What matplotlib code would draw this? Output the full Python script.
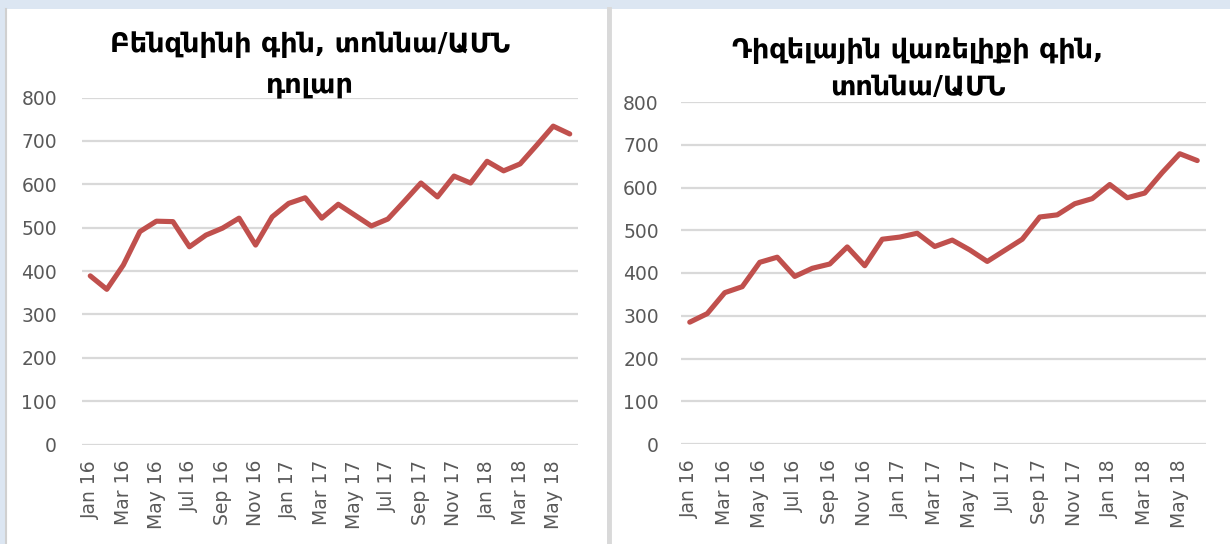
import matplotlib
matplotlib.use("Agg")
import matplotlib.pyplot as plt
from matplotlib.patches import Rectangle
from matplotlib.lines import Line2D

months = ["Jan 16", "Feb 16", "Mar 16", "Apr 16", "May 16", "Jun 16", "Jul 16", "Aug 16",
          "Sep 16", "Oct 16", "Nov 16", "Dec 16", "Jan 17", "Feb 17", "Mar 17", "Apr 17",
          "May 17", "Jun 17", "Jul 17", "Aug 17", "Sep 17", "Oct 17", "Nov 17", "Dec 17",
          "Jan 18", "Feb 18", "Mar 18", "Apr 18", "May 18", "Jun 18"]

gasoline = [389, 358, 414, 491, 515, 514, 456, 483, 499, 522, 460, 525,
            556, 569, 522, 554, 529, 504, 520, 561, 603, 571, 619, 603,
            653, 631, 647, 690, 734, 716]

diesel = [285, 305, 354, 368, 425, 437, 392, 411, 421, 461, 417, 479,
          484, 493, 462, 477, 454, 427, 453, 479, 531, 536, 562, 574,
          607, 576, 587, 635, 679, 663]

title_left = "Բենզնինի գին, տոննա/ԱՄՆ\nդոլար"
title_right = "Դիզելային վառելիքի գին,\nտոննա/ԱՄՆ"
yticks = [0, 100, 200, 300, 400, 500, 600, 700, 800]

W, H = 1230, 544
fig = plt.figure(figsize=(W / 100, H / 100), dpi=100)
fig.patch.set_facecolor("#dce6f2")

def fx(px):
    return px / W

def fy(py):
    return 1 - py / H

# panels
fig.patches.append(Rectangle((fx(6), 0), fx(601), fy(9), transform=fig.transFigure,
                             facecolor="white", edgecolor="none", zorder=-2))
fig.patches.append(Rectangle((fx(611), 0), fx(619), fy(9), transform=fig.transFigure,
                             facecolor="white", edgecolor="none", zorder=-2))
fig.lines.append(Line2D([fx(5.5), fx(5.5)], [0, fy(9)], transform=fig.transFigure,
                        color="#d0d0d0", lw=1.5, zorder=-1))
fig.lines.append(Line2D([fx(609), fx(609)], [0, fy(9)], transform=fig.transFigure,
                        color="#d9d9d9", lw=3.5, zorder=-1))

red = "#c0504d"
grid = "#d9d9d9"
tick_color = "#595959"

def make(ax, values, pad_y):
    x = list(range(len(values)))
    ax.set_facecolor("none")
    ax.plot(x, values, color=red, lw=3.7, solid_joinstyle="round", solid_capstyle="round",
            zorder=3)
    ax.set_xlim(-0.5, len(values) - 0.5)
    ax.set_ylim(0, 800)
    ax.set_yticks(yticks)
    ax.set_yticklabels([str(v) for v in yticks])
    ax.set_xticks(x[::2])
    ax.set_xticklabels(months[::2], rotation=90)
    for s in ax.spines.values():
        s.set_visible(False)
    ax.grid(axis="y", color=grid, lw=1.6)
    ax.set_axisbelow(True)
    ax.tick_params(axis="both", length=0, labelcolor=tick_color, labelsize=13.5)
    ax.tick_params(axis="y", pad=pad_y)
    ax.tick_params(axis="x", pad=11)

axL = fig.add_axes([fx(82), fy(444.7), fx(578 - 82), (444.7 - 97.5) / H])
make(axL, gasoline, 18)
axR = fig.add_axes([fx(681), fy(444), fx(1206 - 681), (444 - 102) / H])
make(axR, diesel, 16)

fig.text(fx(310), fy(65), title_left, ha="center", va="center", fontsize=19.5,
         fontweight="bold", linespacing=1.7, family="DejaVu Sans")
fig.text(fx(918), fy(69), title_right, ha="center", va="center", fontsize=19.5,
         fontweight="bold", linespacing=1.55, family="DejaVu Sans")

fig.savefig("out.png", dpi=100, facecolor=fig.get_facecolor())
